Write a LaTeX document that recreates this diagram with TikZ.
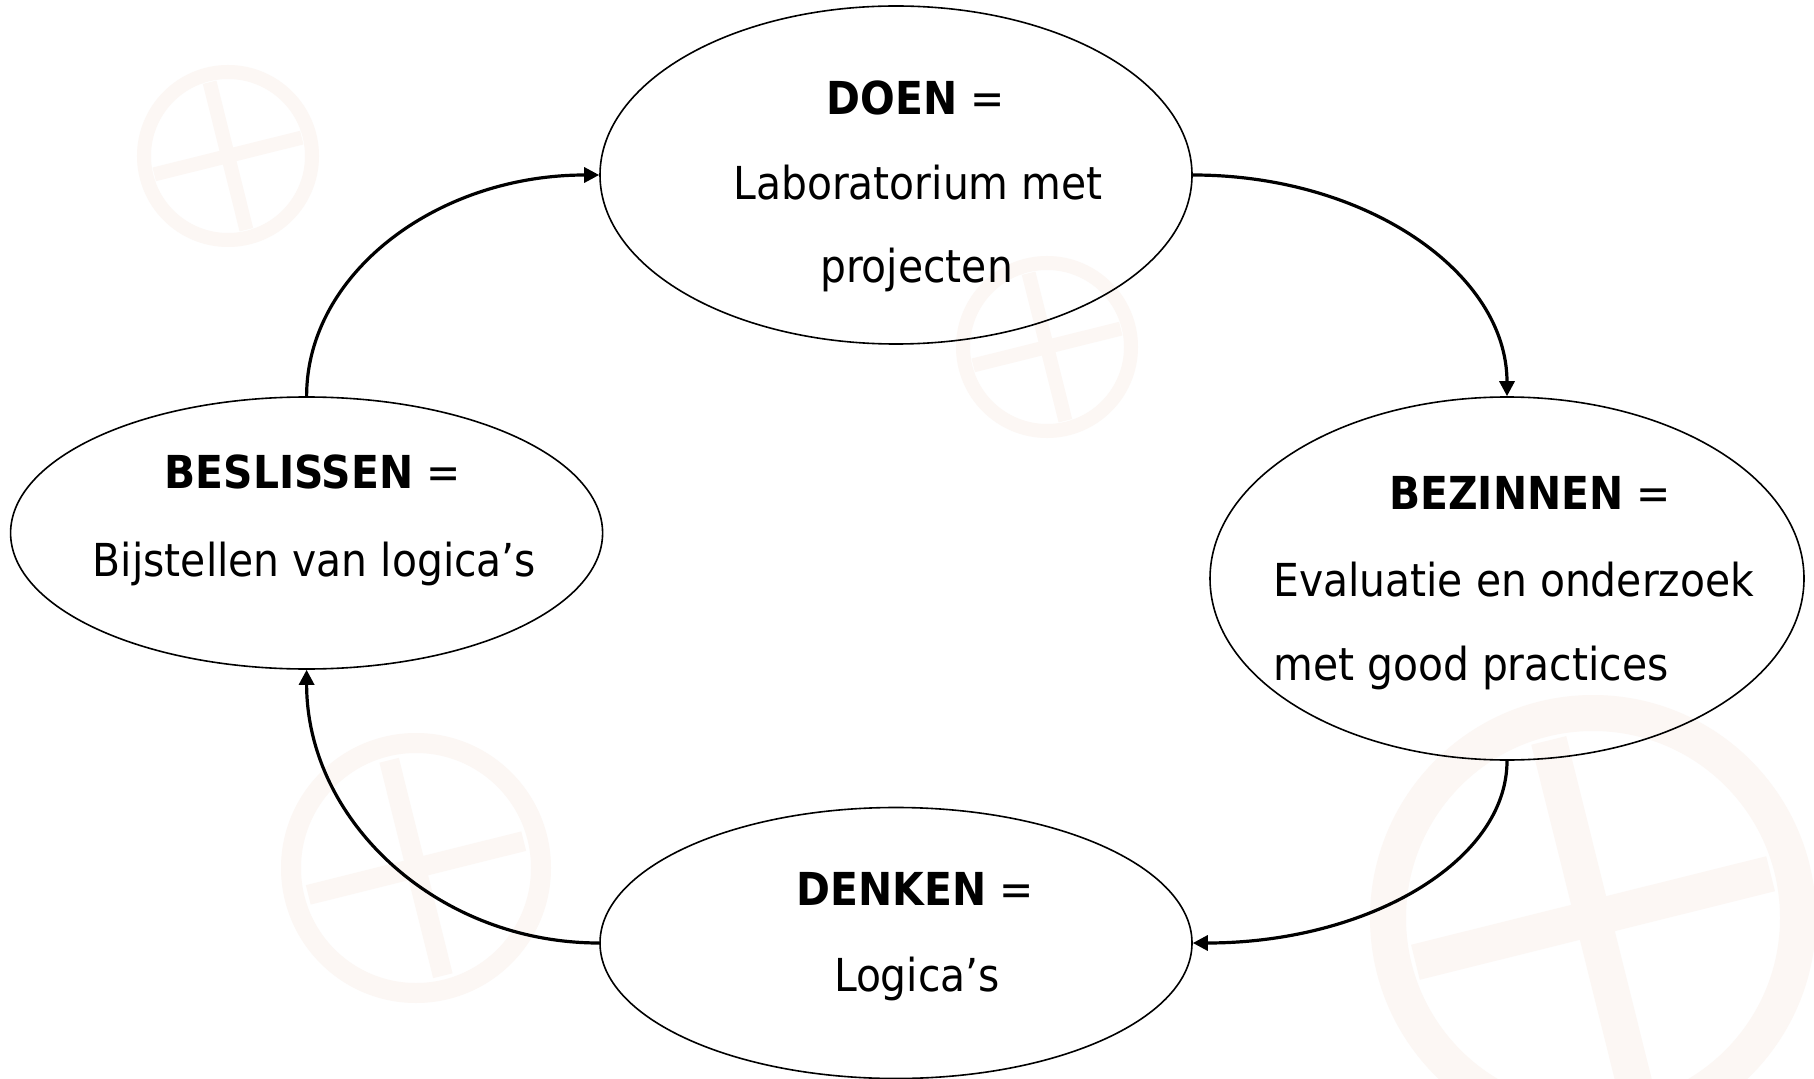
\documentclass[tikz,border=0pt]{standalone}
\usepackage{fontspec}
\setmainfont{DejaVu Sans Condensed}
\usetikzlibrary{shapes.geometric,arrows.meta}
\definecolor{wm}{RGB}{252,247,244}
\begin{document}
\begin{tikzpicture}[x=0.5pt,y=0.5pt,
  bubble/.style={draw=black,line width=0.8pt,ellipse,inner sep=0pt,fill=none},
  lbl/.style={inner sep=0pt,anchor=base,font=\fontsize{22.7}{27}\selectfont},
  lbll/.style={lbl,anchor=base west},
  flow/.style={line width=1.6pt,-{Triangle[length=7.5pt,width=7.5pt]}},
  wmring/.style={draw=wm,line width=#1}]
\useasboundingbox (0,0) rectangle (1814,1078);
\fill[white] (0,0) rectangle (1814,1078);
% faint watermark
\begin{scope}
\clip (0,0) rectangle (1814,1078);
\draw[wmring=7pt] (228,922) circle[radius=84];
\draw[wmring=7pt,rotate around={14:(228,922)}] (152,922) -- (304,922) (228,846) -- (228,998);
\draw[wmring=7pt] (1047,731) circle[radius=84];
\draw[wmring=7pt,rotate around={14:(1047,731)}] (971,731) -- (1123,731) (1047,655) -- (1047,807);
\draw[wmring=10pt] (416,210) circle[radius=125];
\draw[wmring=10pt,rotate around={14:(416,210)}] (305,210) -- (527,210) (416,99) -- (416,321);
\draw[wmring=18pt] (1593,160) circle[radius=205];
\draw[wmring=18pt,rotate around={14:(1593,160)}] (1410,160) -- (1776,160) (1593,-23) -- (1593,343);
\end{scope}
% ellipses
\node[bubble,minimum width=296pt,minimum height=169pt] (doen) at (896,903) {};
\node[bubble,minimum width=297pt,minimum height=181.5pt] (bez) at (1507,499.5) {};
\node[bubble,minimum width=296pt,minimum height=135.5pt] (denk) at (896,135) {};
\node[bubble,minimum width=296pt,minimum height=136pt] (besl) at (306.6,545) {};
% texts
\node[lbl] (doen1) at (915.5,963) {\textbf{DOEN} =};
\node[lbl] (doen2) at (918,878) {Laboratorium met};
\node[lbl] (doen3) at (916.5,795) {projecten};
\node[lbl] (bez1) at (1530,569) {\textbf{BEZINNEN} =};
\node[lbll] (bez2) at (1273,482) {Evaluatie en onderzoek};
\node[lbll] (bez3) at (1273,398) {met good practices};
\node[lbl] (denk1) at (915,172.3) {\textbf{DENKEN} =};
\node[lbl] (denk2) at (917,86.3) {Logica’s};
\node[lbl] (besl1) at (312.5,589) {\textbf{BESLISSEN} =};
\node[lbl] (besl2) at (314.5,502) {Bijstellen van logica’s};
% connectors
\draw[flow] (doen.east) .. controls +(174,0) and +(0,123) .. (bez.north);
\draw[flow] (bez.south) .. controls +(0,-101) and +(174,0) .. (denk.east);
\draw[flow] (denk.west) .. controls +(-162,0) and +(0,-151) .. (besl.south);
\draw[flow] (besl.north) .. controls +(0,123) and +(-162,0) .. (doen.west);
\end{tikzpicture}
\end{document}
